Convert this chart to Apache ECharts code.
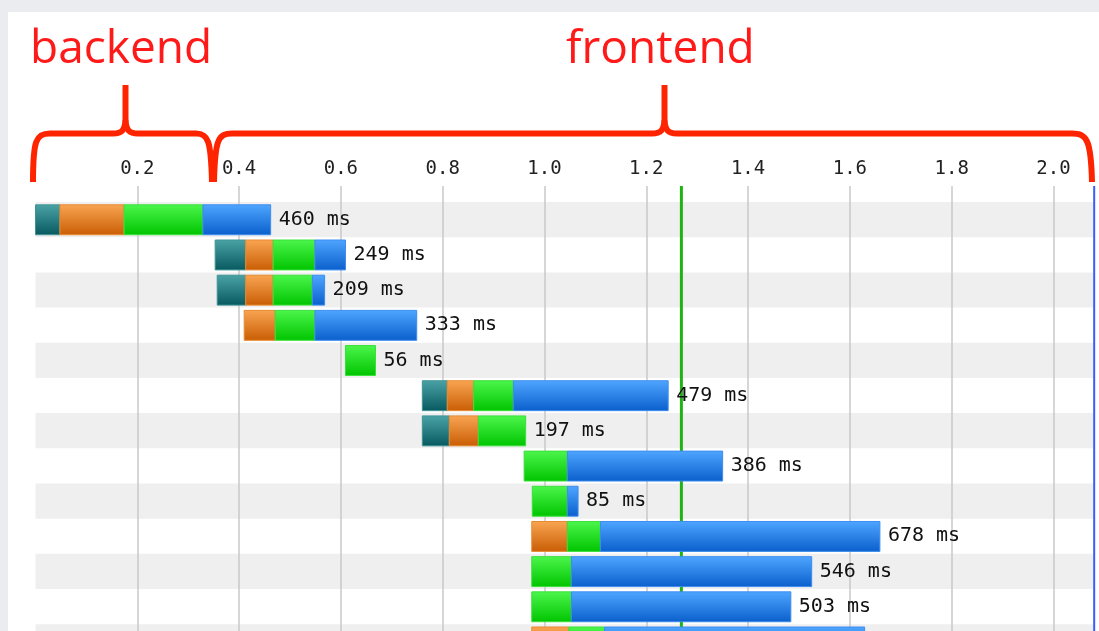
<!DOCTYPE html>
<html>
<head>
<meta charset="utf-8">
<title>waterfall</title>
<script src="https://cdn.jsdelivr.net/npm/echarts@6.0.0/dist/echarts.min.js"></script>
<style>
    html, body { margin: 0; padding: 0; background: #eaecef; overflow: hidden; }
    #panel { position: absolute; left: 8px; top: 12px; width: 1100px; height: 630px; background: #fff; }
    #main { position: absolute; left: 0; top: 0; width: 1099px; height: 631px; }
</style>
</head>
<body>
<div id="panel"></div>
<div id="main"></div>
<script>
// one entry per request row, times in ms
var rows = [0, 1, 2, 3, 4, 5, 6, 7, 8, 9, 10, 11, 12];
var starts   = [0, 353, 357, 410, 609, 760, 760, 960, 976, 975, 975, 975, 975];
var dns      = [48, 60, 56, 0, 0, 49, 53, 0, 0, 0, 0, 0, 0];
var connect  = [126, 54, 54, 61, 0, 52, 57, 0, 0, 70, 0, 0, 73];
var wait     = [155, 82, 77, 78, 59, 78, 93, 85, 69, 65, 78, 78, 70];
var download = [133, 60, 24, 200, 0, 304, 0, 305, 21, 549, 472, 431, 511];
var totals   = [460, 249, 209, 333, 56, 479, 197, 386, 85, 678, 546, 503, 650];

// vertical marker lines (seconds): first render, document complete
var markers = [1.269, 2.08];
var markerColors = ['#1fb414', '#3a5cff'];

var xMax = 2.082;

// segment gradients: dns, connect, wait, download
var segColors = [
    ['#4ba3a6', '#07595f', '#3f9396'],
    ['#f9a552', '#c95d04', '#e88a30'],
    ['#4cf64c', '#00c400', '#3ae03a'],
    ['#4fa6ff', '#0a5fcc', '#3d8cf0']
];

function grad(c) {
    return {
        type: 'linear', x: 0, y: 0, x2: 0, y2: 1,
        colorStops: [{offset: 0, color: c[0]}, {offset: 1, color: c[1]}]
    };
}

var barData = rows.map(function (r, i) {
    return [r, starts[i], dns[i], connect[i], wait[i], download[i], totals[i]];
});
var stripeData = rows.filter(function (r) { return r % 2 === 0; }).map(function (r) { return [r]; });
var markerData = markers.map(function (m, i) { return [m, i]; });

var chart = echarts.init(document.getElementById('main'));

var red = '#ff2400';
var braceStyle = {stroke: red, lineWidth: 6, fill: null};

var graphics = [
    {type: 'text', x: 30, y: 50, style: {text: 'backend', font: '46px "Open Sans"', fill: '#ff1a1a', verticalAlign: 'middle'}},
    {type: 'text', x: 566, y: 50, style: {text: 'frontend', font: '46px "Open Sans"', fill: '#ff1a1a', verticalAlign: 'middle'}},
    // backend brace
    {type: 'bezierCurve', shape: {x1: 33, y1: 182, cpx1: 33, cpy1: 140, cpx2: 36, cpy2: 133.5, x2: 50, y2: 133.5}, style: braceStyle},
    {type: 'line', shape: {x1: 50, y1: 133.5, x2: 113, y2: 133.5}, style: braceStyle},
    {type: 'bezierCurve', shape: {x1: 113, y1: 133.5, cpx1: 122, cpy1: 133.5, cpx2: 125, cpy2: 130, x2: 125.5, y2: 120}, style: braceStyle},
    {type: 'line', shape: {x1: 125.5, y1: 120, x2: 125.5, y2: 85}, style: braceStyle},
    {type: 'bezierCurve', shape: {x1: 125.5, y1: 120, cpx1: 126, cpy1: 130, cpx2: 129, cpy2: 133.5, x2: 138, y2: 133.5}, style: braceStyle},
    {type: 'line', shape: {x1: 138, y1: 133.5, x2: 196, y2: 133.5}, style: braceStyle},
    {type: 'bezierCurve', shape: {x1: 196, y1: 133.5, cpx1: 208, cpy1: 133.5, cpx2: 211, cpy2: 140, x2: 212, y2: 182}, style: braceStyle},
    // frontend brace
    {type: 'bezierCurve', shape: {x1: 214, y1: 182, cpx1: 215, cpy1: 140, cpx2: 218, cpy2: 133.5, x2: 232, y2: 133.5}, style: braceStyle},
    {type: 'line', shape: {x1: 232, y1: 133.5, x2: 652, y2: 133.5}, style: braceStyle},
    {type: 'bezierCurve', shape: {x1: 652, y1: 133.5, cpx1: 661, cpy1: 133.5, cpx2: 664, cpy2: 130, x2: 664.5, y2: 120}, style: braceStyle},
    {type: 'line', shape: {x1: 664.5, y1: 120, x2: 664.5, y2: 85}, style: braceStyle},
    {type: 'bezierCurve', shape: {x1: 664.5, y1: 120, cpx1: 665, cpy1: 130, cpx2: 668, cpy2: 133.5, x2: 677, y2: 133.5}, style: braceStyle},
    {type: 'line', shape: {x1: 677, y1: 133.5, x2: 1072, y2: 133.5}, style: braceStyle},
    {type: 'bezierCurve', shape: {x1: 1072, y1: 133.5, cpx1: 1087, cpy1: 133.5, cpx2: 1091, cpy2: 140, x2: 1092, y2: 182}, style: braceStyle}
];

chart.setOption({
    animation: false,
    backgroundColor: 'transparent',
    graphic: {elements: graphics},
    grid: {left: 35.5, top: 186, width: 1059.7, height: 473.4, outerBoundsMode: 'none'},
    xAxis: {
        type: 'value',
        position: 'top',
        min: 0,
        max: xMax,
        interval: 0.2,
        axisLine: {show: false},
        axisTick: {show: false},
        axisLabel: {
            margin: 7,
            showMinLabel: false,
            showMaxLabel: false,
            fontFamily: 'DejaVu Sans Mono',
            fontSize: 19,
            color: '#222',
            formatter: function (v) { return v.toFixed(1); }
        },
        splitLine: {
            show: true,
            showMinLine: false,
            showMaxLine: false,
            lineStyle: {color: '#c8c8c8', width: 1.5}
        }
    },
    yAxis: {type: 'value', inverse: true, min: -0.455, max: 13, show: false},
    series: [
        {
            // alternating row stripes
            type: 'custom',
            z: -1,
            silent: true,
            data: stripeData,
            renderItem: function (params, api) {
                var r = api.value(0);
                var p0 = api.coord([0, r]);
                var p1 = api.coord([xMax, r + 1]);
                return {type: 'rect', shape: {x: p0[0], y: p0[1], width: p1[0] - p0[0] - 2, height: p1[1] - p0[1]}, style: {fill: '#efefef'}};
            }
        },
        {
            // marker lines
            type: 'custom',
            z: 1,
            silent: true,
            data: markerData,
            renderItem: function (params, api) {
                var p0 = api.coord([api.value(0), -0.455]);
                var p1 = api.coord([api.value(0), 13]);
                var i = api.value(1);
                return {type: 'line', shape: {x1: p0[0], y1: p0[1], x2: p1[0], y2: p1[1]},
                    style: {stroke: markerColors[i], lineWidth: i === 0 ? 3 : 2}};
            }
        },
        {
            type: 'custom',
            z: 2,
            data: barData,
            renderItem: function (params, api) {
                var row = api.value(0);
                var t = api.value(1);
                var segs = [api.value(2), api.value(3), api.value(4), api.value(5)];
                var top = api.coord([0, row + 0.08])[1];
                var bottom = api.coord([0, row + 0.93])[1];
                var children = [];
                segs.forEach(function (d, k) {
                    if (!d) return;
                    var x0 = api.coord([t / 1000, row])[0];
                    var x1 = api.coord([(t + d) / 1000, row])[0];
                    children.push({
                        type: 'rect',
                        shape: {x: x0, y: top, width: x1 - x0, height: bottom - top},
                        style: {fill: grad(segColors[k]), stroke: segColors[k][2], lineWidth: 1}
                    });
                    t += d;
                });
                var end = api.coord([t / 1000, row + 0.5]);
                children.push({
                    type: 'text',
                    x: end[0] + 8,
                    y: end[1],
                    style: {text: api.value(6) + ' ms', font: '20px "DejaVu Sans Mono"', fill: '#111', verticalAlign: 'middle'}
                });
                return {type: 'group', children: children};
            }
        }
    ]
});
</script>
</body>
</html>
